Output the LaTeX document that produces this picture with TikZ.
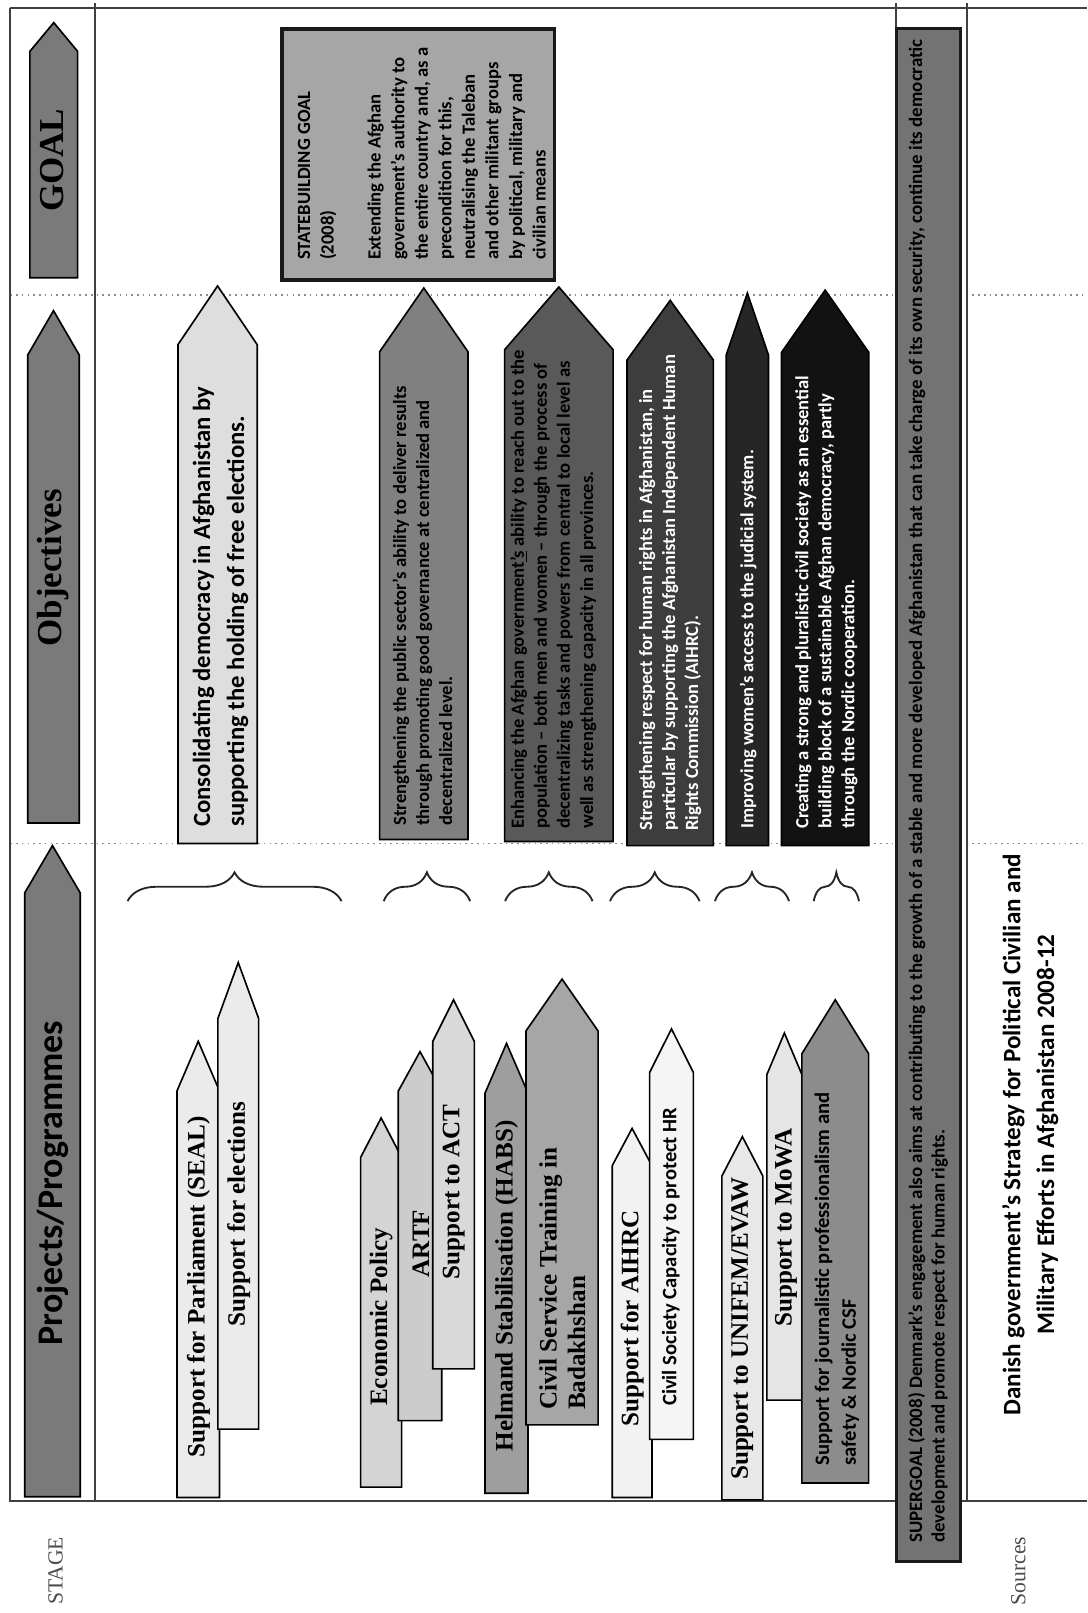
\documentclass[tikz,border=0pt]{standalone}
\usepackage{fontspec}
\newfontfamily\carlito{Carlito}
\newfontfamily\lserif{Liberation Serif}
\usetikzlibrary{decorations.pathreplacing}
\newcommand\sarrow[7]{%
  \draw[arrshape, fill=#7] (#2,#6) -- (#2,#5) -- ({(#2+#3)/2},#4) -- (#3,#5) -- (#3,#6) -- cycle;
  \coordinate (#1) at ({(#2+#3)/2},#4);
}
\begin{document}
\begin{tikzpicture}[x=0.5pt,y=-0.5pt,
  arrshape/.style={draw=black, line width=0.8pt, line join=miter},
  frameline/.style={draw=black!75, line width=1pt},
  dotline/.style={draw=black!45, line width=0.8pt, dotted},
  lbl/.style={rotate=90, anchor=west, inner sep=0pt, align=left},
  sertxt/.style={lbl, font=\lserif\bfseries\fontsize{12.2}{13.85}\selectfont},
  sanstxt/.style={lbl, font=\carlito\bfseries\fontsize{10}{13}\selectfont},
  objtxt/.style={lbl, font=\carlito\bfseries\fontsize{9.05}{11.2}\selectfont},
  goaltxt/.style={lbl, font=\carlito\bfseries\fontsize{9.05}{11.45}\selectfont},
  bigobj/.style={lbl, font=\carlito\bfseries\fontsize{12}{16.5}\selectfont},
  hdrser/.style={rotate=90, anchor=center, inner sep=0pt, font=\lserif\bfseries\fontsize{17}{20}\selectfont},
  hdrsans/.style={rotate=90, anchor=center, inner sep=0pt, font=\carlito\bfseries\fontsize{17.5}{20}\selectfont},
  sidetxt/.style={rotate=90, anchor=center, inner sep=0pt, text=black!70, font=\lserif\fontsize{10.5}{12}\selectfont},
  brc/.style={draw=black!85, line width=0.9pt, decorate, decoration={brace, amplitude=14pt}}
]
\useasboundingbox (0,0) rectangle (1057,1568);
\fill[white] (0,0) rectangle (1057,1568);

% dotted stage separators
\draw[dotline] (10,287) -- (1057,287);
\draw[dotline] (10,820) -- (1057,820);

% frame
\draw[frameline] (10,8) -- (1057,8);
\draw[frameline] (10,8) -- (10,1459) -- (1057,1459);
\draw[frameline] (92,3) -- (92,1459);
\draw[frameline] (871,3) -- (871,1459);
\draw[frameline] (940,3) -- (940,1459);

% header arrows
\sarrow{hg}{29}{75.5}{22}{50}{270}{black!52}
\sarrow{ho}{27}{77}{302}{345}{800}{black!52}
\sarrow{hp}{24}{78}{822}{868}{1455}{black!52}
\node[hdrser] (tgoal) at (51,156) {GOAL};
\node[hdrser] (tobj) at (52,552) {Objectives};
\node[hdrsans] (tproj) at (51,1150) {Projects/Programmes};
\node[sidetxt] (tstage) at (54,1527) {STAGE};
\node[sidetxt] (tsources) at (990,1527) {Sources};

% goal box
\draw[line width=1.8pt, draw=black!90, fill=black!35] (274,28) rectangle (539,272);
\node[goaltxt] (goal) at (410,253) {STATEBUILDING GOAL\\(2008)\\[11.45pt]Extending the Afghan\\government’s authority to\\the entire country and, as a\\precondition for this,\\neutralising the Taleban\\and other militant groups\\by political, military and\\civilian means};

% objectives
\sarrow{o1}{173}{250}{278}{335}{820}{black!13}
\sarrow{o2}{369}{455}{280}{342}{816}{black!50}
\sarrow{o3}{490.5}{596}{279}{340}{818}{black!65}
\sarrow{o4}{609.5}{693.5}{292}{350}{822}{black!76}
\sarrow{o5}{706}{747}{285}{345}{822}{black!85}
\sarrow{o6}{759.7}{844.6}{282}{342.6}{822}{black!93}
\node[bigobj] (ob1) at (214.3,804) {Consolidating democracy in Afghanistan by\\supporting the holding of free elections.};
\node[objtxt] (ob2) at (410.6,803) {Strengthening the public sector’s ability to deliver results\\through promoting good governance at centralized and\\decentralized level.};
\node[objtxt] (ob3) at (537.8,806) {Enhancing the Afghan government\underline{’s} ability to reach out to the\\population – both men and women – through the process of\\decentralizing tasks and powers from central to local level as\\well as strengthening capacity in all provinces.};
\node[objtxt, text=white] (ob4) at (651.5,808) {Strengthening respect for human rights in Afghanistan, in\\particular by supporting the Afghanistan Independent Human\\Rights Commission (AIHRC).};
\node[objtxt, text=white] (ob5) at (727.2,806) {Improving women’s access to the judicial system.};
\node[objtxt, text=white] (ob6) at (803.3,806) {Creating a strong and pluralistic civil society as an essential\\building block of a sustainable Afghan democracy, partly\\through the Nordic cooperation.};

% braces
\draw[brc] (124,876) -- (332,876);
\draw[brc] (373,876) -- (457,876);
\draw[brc] (491,876) -- (576,876);
\draw[brc] (593,876) -- (680,876);
\draw[brc] (695,876) -- (767,876);
\draw[brc] (791,876) -- (835,876);

% projects / programmes
\sarrow{p1}{172}{213.4}{1012.3}{1060.6}{1455.7}{black!8}
\sarrow{p2}{211.8}{251.4}{935.7}{990}{1389.2}{black!8}
\sarrow{p3}{350.6}{390.4}{1086.8}{1125}{1445.6}{black!17}
\sarrow{p4}{387.2}{429.4}{1022.3}{1060.6}{1381}{black!20}
\sarrow{p5}{420.7}{461.1}{971.9}{1012.3}{1330.7}{black!15}
\sarrow{p6}{471.5}{513.3}{1014.3}{1062.6}{1451.6}{black!38}
\sarrow{p7}{511.3}{581.4}{951.8}{1002.2}{1385.1}{black!35}
\sarrow{p8}{595.1}{633.8}{1096.9}{1133.2}{1455.7}{black!5}
\sarrow{p9}{631.5}{674}{1000.2}{1042.5}{1399.2}{black!4}
\sarrow{p10}{701.7}{741.6}{1105}{1143.3}{1458}{black!9}
\sarrow{p11}{745.5}{779.5}{1004.2}{1044.5}{1361}{black!10}
\sarrow{p12}{779.5}{844.4}{971.9}{1024.3}{1441.6}{black!45}
\node[sertxt] (pt1) at (193,1417) {Support for Parliament (SEAL)};
\node[sertxt] (pt2) at (232,1290) {Support for elections};
\node[sertxt] (pt3) at (370.5,1367) {Economic Policy};
\node[sertxt] (pt4) at (409,1242) {ARTF};
\node[sertxt] (pt5) at (441,1244) {Support to ACT};
\node[sertxt] (pt6) at (492.5,1411) {Helmand Stabilisation (HABS)};
\node[sertxt] (pt7) at (546.7,1371) {Civil Service Training in\\Badakhshan};
\node[sertxt] (pt8) at (614.5,1387) {Support for AIHRC};
\node[sanstxt] (pt9) at (652,1367) {Civil Society Capacity to protect HR};
\node[sertxt] (pt10) at (721.5,1439) {Support to UNIFEM/EVAW};
\node[sertxt] (pt11) at (764,1290) {Support to MoWA};
\node[sanstxt] (pt12) at (813.5,1425) {Support for journalistic professionalism and\\safety \& Nordic CSF};

% supergoal
\draw[line width=1.5pt, draw=black!90, fill=black!55] (871.5,28) rectangle (933.5,1518);
\node[lbl, font=\carlito\bfseries\fontsize{9.2}{11}\selectfont] (super) at (902,1500) {SUPERGOAL (2008) Denmark’s engagement also aims at contributing to the growth of a stable and more developed Afghanistan that can take charge of its own security, continue its democratic\\development and promote respect for human rights.};

% sources text
\node[rotate=90, anchor=center, inner sep=0pt, align=center, font=\carlito\bfseries\fontsize{12.2}{16.5}\selectfont] (danish) at (1001.5,1103) {Danish government’s Strategy for Political Civilian and\\Military Efforts in Afghanistan 2008-12};
\end{tikzpicture}
\end{document}
